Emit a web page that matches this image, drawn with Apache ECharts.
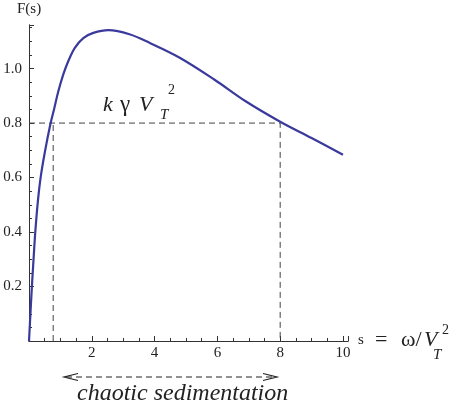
<!DOCTYPE html>
<html>
<head>
<meta charset="utf-8">
<script src="https://cdn.jsdelivr.net/npm/echarts@6/dist/echarts.min.js"></script>
<style>
  html, body { margin: 0; padding: 0; background: #fff; }
  #main { width: 451px; height: 416px; }
</style>
</head>
<body>
<div id="main"></div>
<script>
    // F(s) curve
    var sValues = [0, 0.05, 0.1, 0.15, 0.2, 0.28, 0.37, 0.5, 0.67, 0.8, 0.93, 1.09, 1.25, 1.46, 1.73, 2.05, 2.53, 3.2, 3.85, 4.8, 5.9, 6.9, 8.0, 9.0, 10.0];
    var fValues = [0, 0.11, 0.215, 0.31, 0.4, 0.51, 0.6, 0.69, 0.79, 0.852, 0.915, 0.978, 1.027, 1.076, 1.112, 1.131, 1.141, 1.126, 1.094, 1.04, 0.96, 0.88, 0.805, 0.745, 0.684];

    // dashed guide lines: level k*gamma*V_T^2 and its two crossings
    var guideLevel = 0.8;
    var guideLeftS = 0.77;
    var guideRightS = 8;

    var xTicks = [2, 4, 6, 8, 10];
    var yTicks = [0.2, 0.4, 0.6, 0.8, 1.0];

    var serif = "'Liberation Serif', 'DejaVu Serif', serif";
    var ink = '#222';
    var axisColor = '#333';

    var curve = sValues.map(function(s, i) { return [s, fValues[i]]; });
    var guideA = [[guideLeftS, 0], [guideLeftS, guideLevel]];
    var guideB = [[0, guideLevel], [guideRightS, guideLevel], [guideRightS, 0]];

    function xFmt(v) {
        return xTicks.indexOf(Math.round(v * 100) / 100) >= 0 ? String(Math.round(v)) : '';
    }
    function yFmt(v) {
        var r = Math.round(v * 100) / 100;
        return yTicks.indexOf(r) >= 0 ? r.toFixed(1) : '';
    }

    var xBase = {
        type: 'value', min: 0, max: 10.16, position: 'bottom',
        axisLine: { show: true, onZero: false, lineStyle: { color: axisColor, width: 1 } },
        splitLine: { show: false }
    };
    var yBase = {
        type: 'value', min: 0, max: 1.16, position: 'left',
        axisLine: { show: true, onZero: false, lineStyle: { color: axisColor, width: 1 } },
        splitLine: { show: false }
    };

    var chart = echarts.init(document.getElementById('main'));

    chart.setOption({
        animation: false,
        grid: { left: 29, right: 103, top: 25, bottom: 75 },
        xAxis: [
            Object.assign({}, xBase, {
                interval: 0.5,
                axisTick: { show: true, inside: true, length: 3, lineStyle: { color: axisColor } },
                axisLabel: { show: false }
            }),
            Object.assign({}, xBase, {
                interval: 2,
                axisTick: { show: true, inside: true, length: 5, lineStyle: { color: axisColor } },
                axisLabel: { show: true, formatter: xFmt, color: ink, fontFamily: serif, fontSize: 15, margin: 5 }
            })
        ],
        yAxis: [
            Object.assign({}, yBase, {
                interval: 0.05,
                axisTick: { show: true, inside: true, length: 3, lineStyle: { color: axisColor } },
                axisLabel: { show: false }
            }),
            Object.assign({}, yBase, {
                interval: 0.2,
                axisTick: { show: true, inside: true, length: 5, lineStyle: { color: axisColor } },
                axisLabel: { show: true, formatter: yFmt, color: ink, fontFamily: serif, fontSize: 15, margin: 7 }
            })
        ],
        series: [
            {
                type: 'line', data: guideA, symbol: 'none', silent: true,
                lineStyle: { color: '#444', width: 1, type: [6, 4] }
            },
            {
                type: 'line', data: guideB, symbol: 'none', silent: true,
                lineStyle: { color: '#444', width: 1, type: [6, 4] }
            },
            {
                type: 'line', data: curve, symbol: 'none', smooth: 0.35,
                lineStyle: { color: '#3a3a9c', width: 2.2 }
            }
        ],
        graphic: [
            { type: 'text', style: { text: 'F(s)', x: 17, y: 9, verticalAlign: 'middle', font: '15px ' + serif, fill: ink } },
            // x axis title: s = ω/V_T^2
            { type: 'text', style: { text: 's', x: 358, y: 340, verticalAlign: 'middle', font: '15px ' + serif, fill: ink } },
            { type: 'text', style: { text: '=', x: 375, y: 340, verticalAlign: 'middle', font: '22px ' + serif, fill: ink } },
            { type: 'text', style: { text: 'ω/', x: 401, y: 340, verticalAlign: 'middle', font: '22px ' + serif, fill: ink } },
            { type: 'text', style: { text: 'V', x: 424, y: 340, verticalAlign: 'middle', font: 'italic 22px ' + serif, fill: ink } },
            { type: 'text', style: { text: 'T', x: 433, y: 355, verticalAlign: 'middle', font: 'italic 15px ' + serif, fill: ink } },
            { type: 'text', style: { text: '2', x: 442, y: 330, verticalAlign: 'middle', font: '14px ' + serif, fill: ink } },
            // level label: k γ V_T^2
            { type: 'text', style: { text: 'k', x: 103, y: 105, verticalAlign: 'middle', font: 'italic 22px ' + serif, fill: ink } },
            { type: 'text', style: { text: 'γ', x: 120, y: 105, verticalAlign: 'middle', font: '23px ' + serif, fill: ink } },
            { type: 'text', style: { text: 'V', x: 139, y: 105, verticalAlign: 'middle', font: 'italic 22px ' + serif, fill: ink } },
            { type: 'text', style: { text: 'T', x: 160, y: 115, verticalAlign: 'middle', font: 'italic 15px ' + serif, fill: ink } },
            { type: 'text', style: { text: '2', x: 168, y: 90, verticalAlign: 'middle', font: '14px ' + serif, fill: ink } },
            // double arrow
            { type: 'line', shape: { x1: 66, y1: 377, x2: 275, y2: 377 }, style: { stroke: '#222', lineWidth: 1, lineDash: [6, 4] } },
            { type: 'polyline', shape: { points: [[78, 373.5], [64, 377], [78, 380.5]] }, style: { stroke: '#222', lineWidth: 1.2, fill: null } },
            { type: 'polyline', shape: { points: [[263, 373.5], [277, 377], [263, 380.5]] }, style: { stroke: '#222', lineWidth: 1.2, fill: null } },
            { type: 'text', style: { text: 'chaotic sedimentation', x: 77, y: 394, verticalAlign: 'middle', font: 'italic 24px ' + serif, fill: ink } }
        ]
    });
</script>
</body>
</html>
